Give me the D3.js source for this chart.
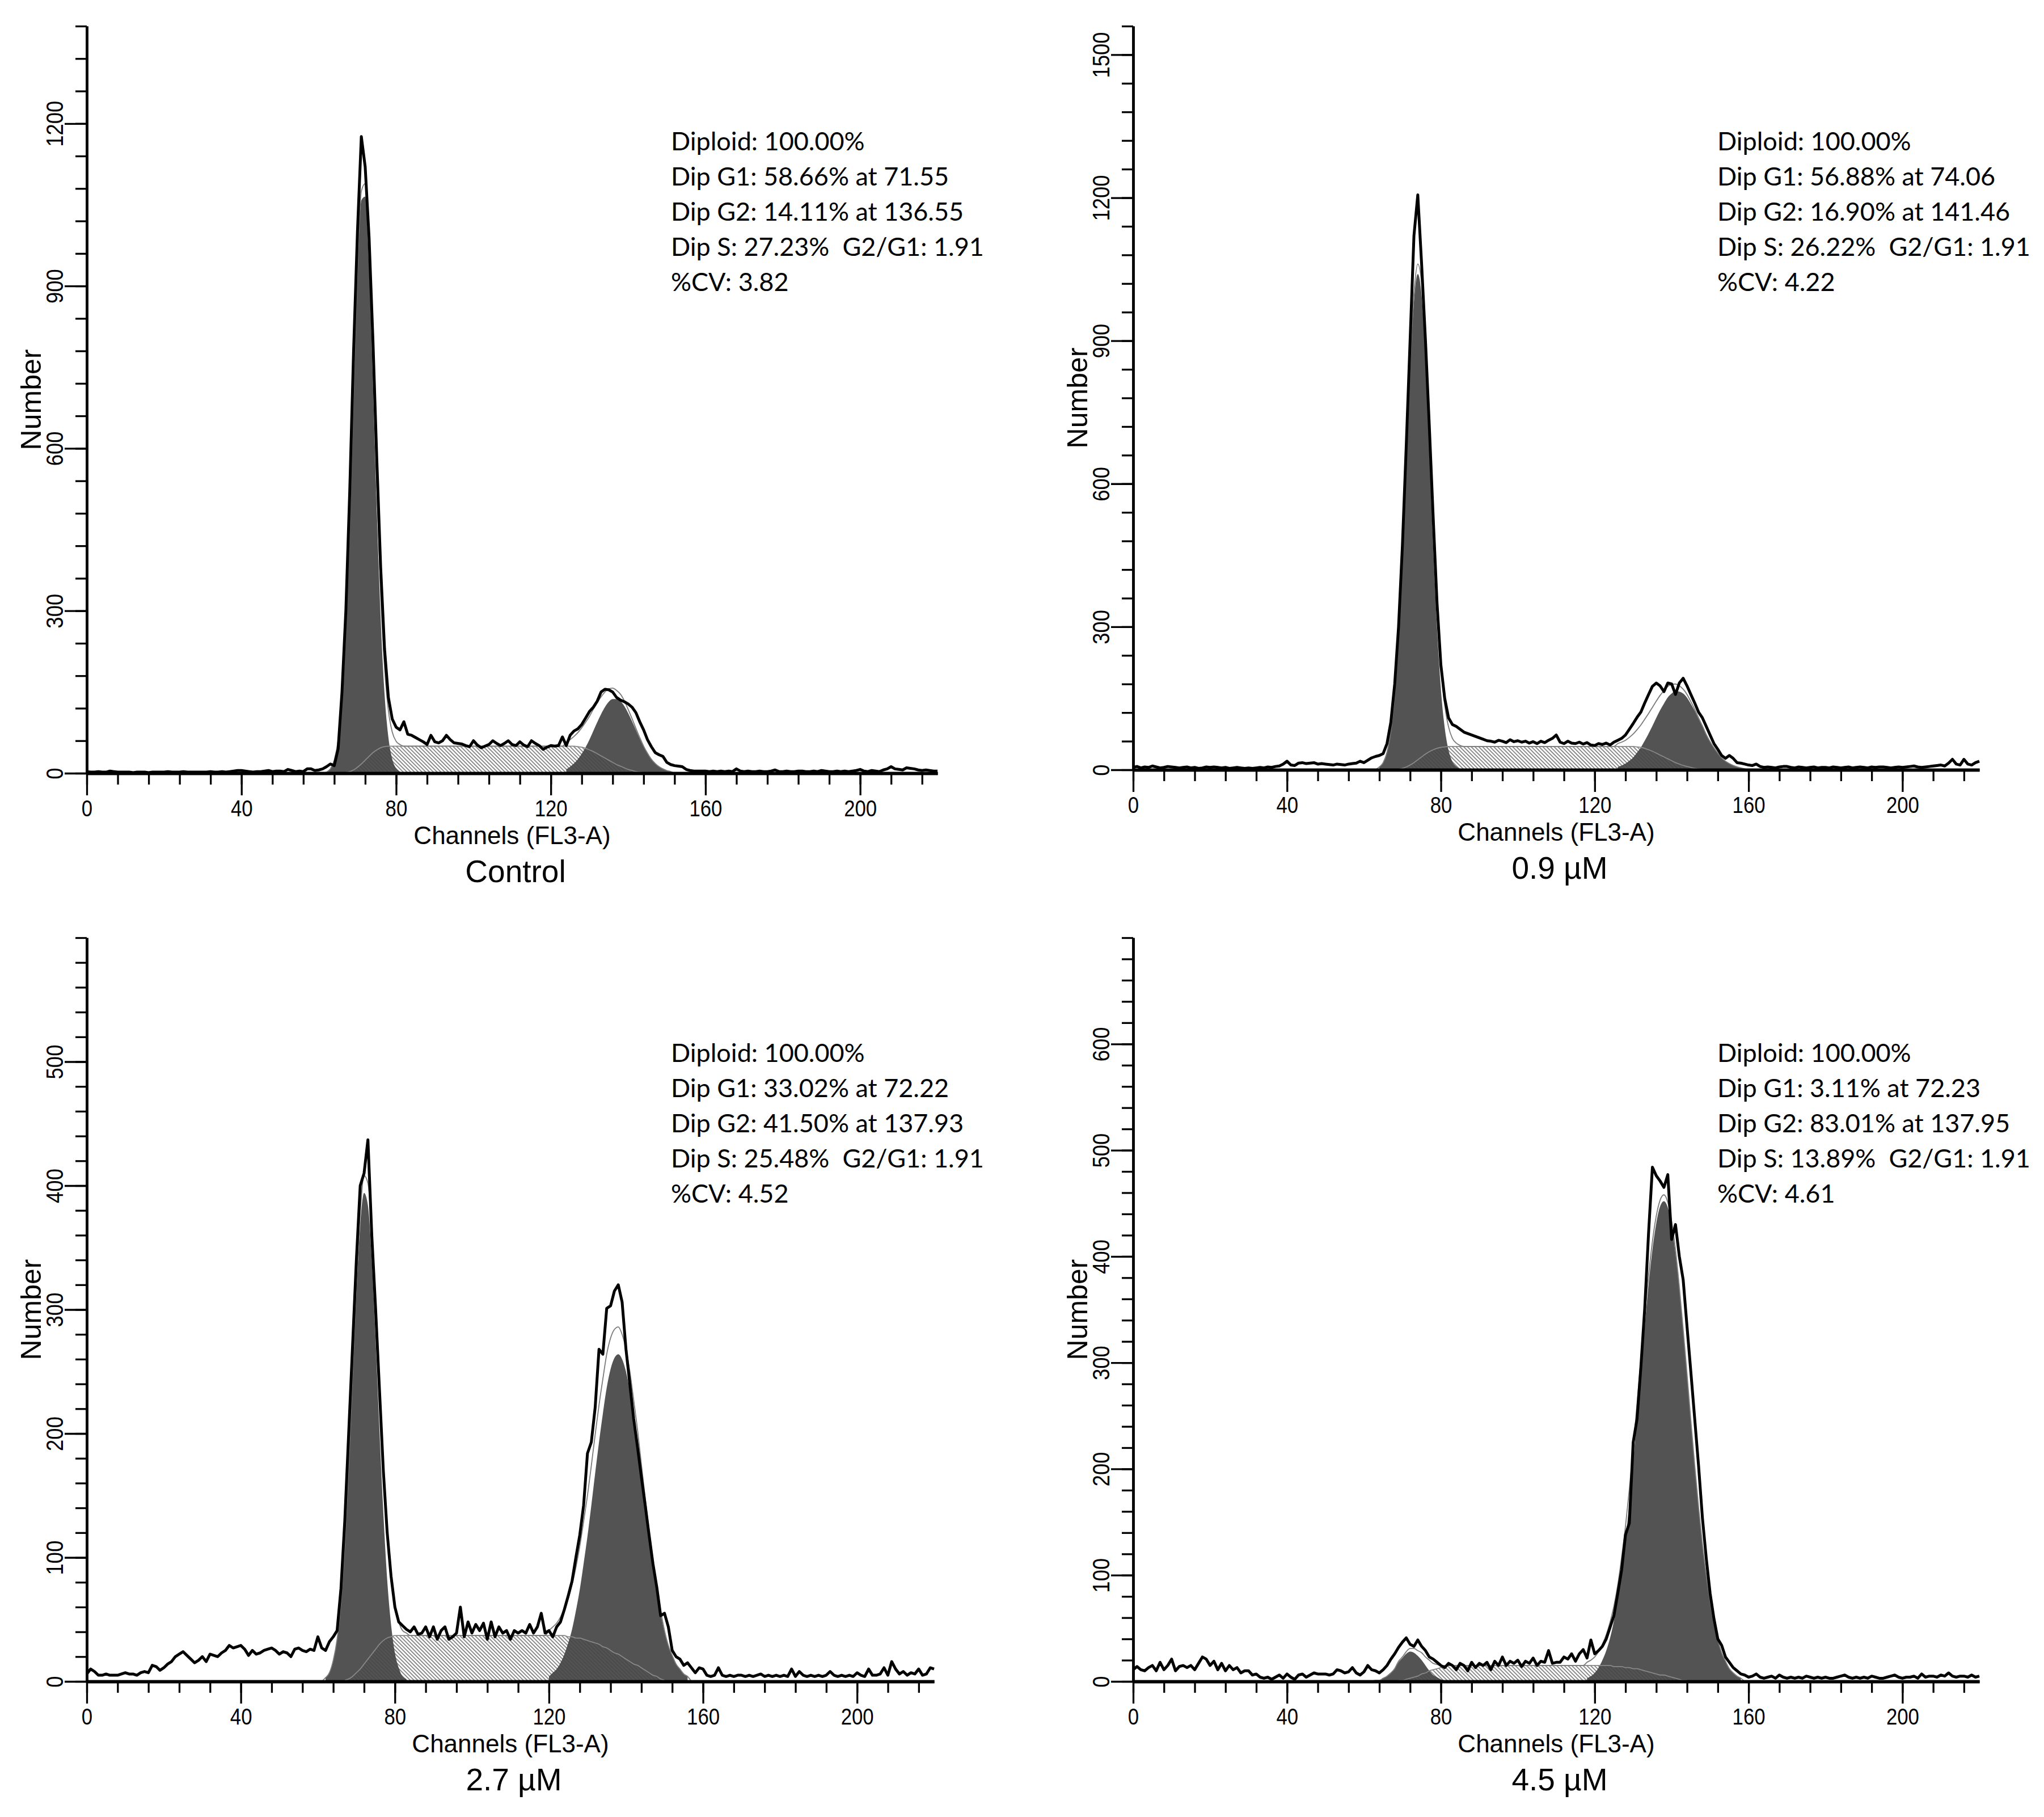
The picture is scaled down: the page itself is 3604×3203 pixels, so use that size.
<!DOCTYPE html>
<html>
<head>
<meta charset="utf-8">
<script src="https://cdn.jsdelivr.net/npm/d3@7"></script>
<style>
  body { margin: 0; background: #fff; }
</style>
</head>
<body>
<div id="chart-holder"></div>
<script>
      // DATA
      // channel axis (FL3-A)
      var channelMax = 220;
      var channelTicks = [0, 40, 80, 120, 160, 200];
      var channelMinorTicks = d3.range(0, 221, 8);

      // ---- Control ----
      var ctrlTitle = "Control";
      var ctrlStats = ["Diploid: 100.00%", "Dip G1: 58.66% at 71.55", "Dip G2: 14.11% at 136.55", "Dip S: 27.23%  G2/G1: 1.91", "%CV: 3.82"];
      var ctrlCountTicks = [0, 300, 600, 900, 1200];
      var ctrlRaw = [
        3,2,2,3,2,2,4,3,2,2,            // 0
        2,2,1,2,2,2,1,2,2,2,            // 10
        2,3,2,2,2,3,2,2,2,2,            // 20
        2,2,3,2,2,3,2,3,4,5,            // 30
        5,4,3,2,3,3,4,5,3,4,            // 40
        4,3,7,5,3,4,3,8,8,5,            // 50
        6,8,12,17,14,45,150,300,520,780, // 60
        1000,1176,1120,990,800,580,380,230,140,100, // 70
        85,80,95,72,70,66,62,58,53,70,  // 80
        58,56,60,70,62,56,55,54,51,49,  // 90
        60,52,47,50,53,60,55,51,55,60,  // 100
        53,51,58,52,49,60,55,51,44,48,  // 110
        51,50,51,67,51,70,78,82,90,102, // 120
        114,122,133,150,155,154,150,140,135,132, // 130
        128,122,112,95,80,62,49,38,34,31, // 140
        20,16,14,13,12,7,5,4,4,4,       // 150
        4,3,4,3,4,3,4,3,8,4,            // 160
        3,4,3,3,4,3,3,4,6,3,            // 170
        3,4,3,3,4,4,3,3,4,3,            // 180
        5,4,3,3,4,3,4,3,4,5,            // 190
        7,4,3,5,4,3,6,8,12,8,           // 200
        7,6,10,9,8,6,5,6,5,4,4          // 210
      ];
      var ctrlG1Start = 62;
      var ctrlG1 = [2,8,24,61,136,269,463,698,919,1058,1065,938,722,486,286,147,66,26,9,3];
      var ctrlSStart = 67;
      var ctrlS = [
        1,3,6,11,17,24,31,38,43,47,49,
        50,50,50,50,50,50,50,50,50,50,
        50,50,50,50,50,50,50,50,50,50,
        50,50,50,50,50,50,50,50,50,50,
        50,50,50,50,50,50,50,50,50,50,
        50,50,50,50,50,50,50,50,50,
        49,48,46,43,40,36,32,28,24,20,16,13,10,7,5,3,2,1
      ];
      var ctrlG2Start = 124;
      var ctrlG2 = [7,12,18,26,36,48,62,78,94,109,122,132,137,137,133,124,111,96,80,64,49,37,26,18,12,8,5,3];

      // ---- 0.9 uM ----
      var p09Title = "0.9 µM";
      var p09Stats = ["Diploid: 100.00%", "Dip G1: 56.88% at 74.06", "Dip G2: 16.90% at 141.46", "Dip S: 26.22%  G2/G1: 1.91", "%CV: 4.22"];
      var p09CountTicks = [0, 300, 600, 900, 1200, 1500];
      var p09Raw = [
        5,7,4,6,5,8,6,4,5,7,            // 0
        6,5,4,5,6,4,5,3,4,6,            // 10
        5,6,5,4,5,3,4,5,4,3,            // 20
        4,3,4,5,4,6,5,7,8,12,           // 30
        18,10,9,14,15,13,14,15,12,13,   // 40
        12,11,10,12,11,10,12,13,14,18,  // 50
        15,20,25,28,30,34,55,100,180,300, // 60
        470,680,900,1120,1206,1060,900,720,530,350, // 70
        220,150,109,95,91,85,79,76,73,70, // 80
        67,64,61,60,58,62,60,57,63,59,  // 90
        61,58,60,56,59,55,60,57,62,66,  // 100
        73,58,55,60,56,55,58,54,57,52,  // 110
        51,55,53,56,52,58,62,66,73,85,  // 120
        97,110,121,140,158,175,182,176,164,182, // 130
        180,158,182,192,176,158,140,121,109,91, // 140
        73,55,43,30,24,30,24,15,14,12,  // 150
        10,9,12,7,5,6,5,4,6,7,          // 160
        7,5,4,6,5,4,5,6,4,5,            // 170
        5,4,6,5,4,5,6,4,5,6,            // 180
        5,4,6,5,6,6,5,4,5,6,            // 190
        5,6,7,8,6,5,6,7,8,9,            // 200
        10,8,14,22,12,10,22,12,10,15,18 // 210
      ];
      var p09G1Start = 64;
      var p09G1 = [6,15,37,81,158,280,447,643,837,982,1040,994,858,668,469,298,170,88,41,17,7,2];
      var p09SStart = 69;
      var p09S = [
        1,3,6,10,15,21,27,33,38,42,45,47,48,
        49,49,49,49,49,49,49,49,49,49,
        49,49,49,49,49,49,49,49,49,49,
        49,49,49,49,49,49,49,49,49,49,
        49,49,49,49,49,49,49,49,49,49,
        49,49,49,49,49,49,49,49,49,
        48,47,45,42,39,35,31,27,23,19,15,12,9,7,5,3,2,1
      ];
      var p09G2Start = 126;
      var p09G2 = [6,9,13,19,26,36,47,61,76,92,109,125,139,152,160,165,164,160,151,138,124,107,91,74,59,46,35,25,18,13,9,6,4,2];

      // ---- 2.7 uM ----
      var p27Title = "2.7 µM";
      var p27Stats = ["Diploid: 100.00%", "Dip G1: 33.02% at 72.22", "Dip G2: 41.50% at 137.93", "Dip S: 25.48%  G2/G1: 1.91", "%CV: 4.52"];
      var p27CountTicks = [0, 100, 200, 300, 400, 500];
      var p27Raw = [
        6,10,8,5,5,6,5,5,5,6,           // 0
        7,6,6,5,7,8,7,13,12,9,          // 10
        11,14,16,20,22,24,21,18,15,17,  // 20
        20,16,22,21,20,23,25,29,27,28,  // 30
        29,26,21,25,22,23,25,26,27,25,  // 40
        22,24,23,20,26,27,25,24,26,25,  // 50
        36,27,25,32,36,41,75,130,200,270, // 60
        340,400,410,437,360,300,235,170,120,85, // 70
        60,48,45,42,40,44,38,39,44,36,  // 80
        44,34,41,44,34,36,39,60,36,48,  // 90
        39,46,41,47,34,48,36,44,39,41,  // 100
        34,41,39,41,39,46,39,44,55,39,  // 110
        41,36,44,48,58,69,81,100,118,142, // 120
        184,193,221,268,264,301,303,315,320,306, // 130
        268,240,212,189,165,142,118,95,76,53, // 140
        55,44,25,20,18,13,15,11,7,11,   // 150
        10,5,4,5,11,5,4,5,4,5,          // 160
        5,4,5,4,5,6,4,5,4,5,            // 170
        4,5,4,10,4,8,5,4,5,4,           // 180
        5,4,5,8,5,4,5,4,5,4,            // 190
        7,5,4,10,5,5,6,11,5,16,         // 200
        10,6,8,5,7,6,10,5,6,11,10       // 210
      ];
      var p27G1Start = 62;
      var p27G1 = [3,7,17,34,64,110,171,243,313,368,394,384,340,275,202,136,82,46,23,11,4,2];
      var p27SStart = 67;
      var p27S = [
        1,2,4,7,10,14,18,22,26,30,33,35,36,
        37,37,37,37,37,37,37,37,37,37,
        37,37,37,37,37,37,37,37,37,37,
        37,37,37,37,37,37,37,37,37,37,
        37,37,37,37,37,37,37,37,37,37,
        37,37,37,
        37,37,36,36,35,35,34,33,32,31,30,28,27,25,23,22,20,18,16,14,13,11,9,7,5,4,2,1
      ];
      var p27G2Start = 120;
      var p27G2 = [4,7,10,15,22,31,42,57,74,95,117,142,168,193,216,237,252,261,264,260,250,234,213,190,164,139,114,92,72,55,40,29,21,14,10,6,4];

      // ---- 4.5 uM ----
      var p45Title = "4.5 µM";
      var p45Stats = ["Diploid: 100.00%", "Dip G1: 3.11% at 72.23", "Dip G2: 83.01% at 137.95", "Dip S: 13.89%  G2/G1: 1.91", "%CV: 4.61"];
      var p45CountTicks = [0, 100, 200, 300, 400, 500, 600];
      var p45Raw = [
        11,14,11,10,13,15,10,18,11,15,  // 0
        21,10,14,15,13,15,11,17,23,21,  // 10
        15,19,11,17,10,15,11,13,8,10,   // 20
        10,6,7,4,3,4,2,4,6,3,           // 30
        7,4,2,6,7,4,6,8,7,7,            // 40
        7,6,7,11,10,8,9,13,8,6,         // 50
        9,15,11,10,8,11,15,21,26,32,    // 60
        37,41,35,33,39,33,29,23,21,18,  // 70
        15,13,17,15,11,17,15,10,18,13,  // 80
        17,15,18,11,19,15,23,15,19,17,  // 90
        20,14,19,17,22,15,19,18,29,17,  // 100
        18,18,23,21,26,19,26,30,22,39,  // 110
        26,29,33,40,51,62,83,105,138,149, // 120
        225,247,296,351,422,484,476,471,465,477, // 130
        416,430,400,378,334,291,247,203,154,116, // 140
        83,59,40,34,23,18,13,10,7,6,    // 150
        4,5,7,4,3,4,5,3,6,4,            // 160
        3,4,3,4,3,5,4,3,4,3,            // 170
        4,3,3,4,5,6,4,3,4,3,            // 180
        4,3,5,4,3,3,4,5,6,4,            // 190
        3,4,4,5,3,7,4,5,5,4,            // 200
        6,5,8,5,4,5,5,4,6,4,5           // 210
      ];
      var p45G1Start = 63;
      var p45G1 = [1,1,3,5,8,12,18,22,26,28,27,24,20,15,10,6,4,2,1];
      var p45SStart = 69;
      var p45S = [
        1,1,2,3,4,5,7,8,10,11,12,13,14,
        15,15,15,15,15,15,15,15,15,15,
        15,15,15,15,15,15,15,15,15,15,
        15,15,15,15,15,15,15,15,15,15,
        15,15,15,15,15,15,15,15,15,15,
        15,15,15,
        14,14,14,13,13,12,12,11,10,9,8,7,6,6,5,4,3,2,1,1
      ];
      var p45G2Start = 118;
      var p45G2 = [3,5,8,13,20,29,41,57,77,103,133,168,207,249,292,334,373,406,431,447,452,446,429,403,369,330,288,245,203,164,129,100,75,55,39,27,19,12,8,5,3];

      // LAYOUT (pixel frame of each panel)
      var panels = [
        { raw: ctrlRaw, g1: ctrlG1, g1Start: ctrlG1Start, s: ctrlS, sStart: ctrlSStart, g2: ctrlG2, g2Start: ctrlG2Start,
          yMax: 1380, yTicks: ctrlCountTicks, yMinorStep: 60, stats: ctrlStats, title: ctrlTitle,
          left: 153, right: 1653, top: 46, bottom: 1363 },
        { raw: p09Raw, g1: p09G1, g1Start: p09G1Start, s: p09S, sStart: p09SStart, g2: p09G2, g2Start: p09G2Start,
          yMax: 1560, yTicks: p09CountTicks, yMinorStep: 60, stats: p09Stats, title: p09Title,
          left: 1998, right: 3490, top: 46, bottom: 1357 },
        { raw: p27Raw, g1: p27G1, g1Start: p27G1Start, s: p27S, sStart: p27SStart, g2: p27G2, g2Start: p27G2Start,
          yMax: 600, yTicks: p27CountTicks, yMinorStep: 20, stats: p27Stats, title: p27Title,
          left: 153, right: 1647, top: 1653, bottom: 2964 },
        { raw: p45Raw, g1: p45G1, g1Start: p45G1Start, s: p45S, sStart: p45SStart, g2: p45G2, g2Start: p45G2Start,
          yMax: 700, yTicks: p45CountTicks, yMinorStep: 20, stats: p45Stats, title: p45Title,
          left: 1998, right: 3490, top: 1653, bottom: 2964 }
      ];

      var labelFont = "'Liberation Sans', Arial, sans-serif";
      var tickFont = "'Liberation Sans Narrow', 'Liberation Sans', Arial, sans-serif";
      var statsFont = "Lato, 'Open Sans', sans-serif";

      // DEFINE FUNCTIONS
      function toPoints(values, start) {
        return values.map(function(v, i) { return [start + i, v]; });
      }

      function valueAt(values, start, c) {
        var i = c - start;
        return (i >= 0 && i < values.length) ? values[i] : 0;
      }

      function textWidth(str, family, size) {
        var t = svg.append("text")
          .attr("font-family", family)
          .attr("font-size", size)
          .style("white-space", "pre")
          .text(str);
        var w = t.node().getComputedTextLength();
        t.remove();
        return w;
      }

      // create an SVG
      var svg = d3
        .select("#chart-holder")
        .append("svg")
        .attr("width", 3604)
        .attr("height", 3203)
        .attr("viewBox", "0 0 3604 3203")
      ;

      svg.append("rect")
        .attr("width", 3604)
        .attr("height", 3203)
        .attr("fill", "#fff");

      // hatch for the S phase
      svg.append("defs")
        .append("pattern")
        .attr("id", "hatch")
        .attr("patternUnits", "userSpaceOnUse")
        .attr("width", 4.7)
        .attr("height", 4.7)
        .attr("patternTransform", "rotate(-45)")
        .append("line")
        .attr("x1", 1).attr("y1", -1)
        .attr("x2", 1).attr("y2", 6)
        .attr("stroke", "#444")
        .attr("stroke-width", 1.2)
      ;

      // fit the stats font to the width seen in the picture
      var statsSize = 100 * 552 / textWidth(ctrlStats[3], statsFont, 100);
      // tick digits are condensed: "200" is about 58 px wide
      var tickSquash = Math.min(1, 58 / textWidth("200", tickFont, 40));

      panels.forEach(function(p) {
        var x = d3.scaleLinear().domain([0, channelMax]).range([p.left, p.right]);
        var y = d3.scaleLinear().domain([0, p.yMax]).range([p.bottom, p.top]);
        var g = svg.append("g").attr("class", "panel");

        var area = d3.area()
          .x(function(d) { return x(d[0]); })
          .y0(y(0))
          .y1(function(d) { return y(d[1]); })
          .curve(d3.curveMonotoneX);
        var smooth = d3.line()
          .x(function(d) { return x(d[0]); })
          .y(function(d) { return y(d[1]); })
          .curve(d3.curveMonotoneX);
        var jagged = d3.line()
          .x(function(d) { return x(d[0]); })
          .y(function(d) { return y(d[1]); });

        var g1Pts = toPoints(p.g1, p.g1Start);
        var g2Pts = toPoints(p.g2, p.g2Start);
        var sPts = toPoints(p.s, p.sStart);

        // sum of the fitted components
        var first = Math.min(p.g1Start, p.sStart) - 1;
        var last = Math.max(p.g2Start + p.g2.length, p.sStart + p.s.length);
        var fitPts = [];
        for (var c = first; c <= last; c++) {
          fitPts.push([c, valueAt(p.g1, p.g1Start, c) + valueAt(p.s, p.sStart, c) + valueAt(p.g2, p.g2Start, c)]);
        }

        g.append("path").datum(g1Pts).attr("d", area).attr("fill", "#535353");
        g.append("path").datum(g2Pts).attr("d", area).attr("fill", "#535353");
        g.append("path").datum(sPts).attr("d", area).attr("fill", "url(#hatch)");
        g.append("path").datum(sPts).attr("d", smooth)
          .attr("fill", "none").attr("stroke", "#888").attr("stroke-width", 1.8);

        // fit curve: thin grey line
        g.append("path").datum(fitPts).attr("d", smooth)
          .attr("fill", "none").attr("stroke", "#7a7a7a").attr("stroke-width", 1.8);

        // raw histogram
        g.append("path").datum(toPoints(p.raw, 0)).attr("d", jagged)
          .attr("fill", "none").attr("stroke", "#000")
          .attr("stroke-width", 5).attr("stroke-linejoin", "round");

        // x axis
        var xMinorG = g.append("g")
          .attr("transform", "translate(0," + p.bottom + ")")
          .call(d3.axisBottom(x).tickValues(channelMinorTicks).tickSize(20).tickSizeOuter(0).tickFormat(""));
        xMinorG.selectAll("text").remove();
        var xMajorG = g.append("g")
          .attr("transform", "translate(0," + p.bottom + ")")
          .call(d3.axisBottom(x).tickValues(channelTicks).tickSize(39).tickSizeOuter(0).tickPadding(9).tickFormat(d3.format("d")));
        xMajorG.attr("font-family", tickFont).attr("font-size", 40);
        xMajorG.selectAll("text")
          .attr("fill", "#000")
          .attr("transform", "scale(" + tickSquash + ",1)");

        // y axis
        var yMinorG = g.append("g")
          .attr("transform", "translate(" + p.left + ",0)")
          .call(d3.axisLeft(y).tickValues(d3.range(0, p.yMax + 1, p.yMinorStep)).tickSize(20).tickSizeOuter(0).tickFormat(""));
        yMinorG.selectAll("text").remove();
        var yMajorG = g.append("g")
          .attr("transform", "translate(" + p.left + ",0)")
          .call(d3.axisLeft(y).tickValues(p.yTicks).tickSize(39).tickSizeOuter(0).tickFormat(d3.format("d")));
        yMajorG.attr("font-family", tickFont).attr("font-size", 42);
        yMajorG.selectAll("text")
          .attr("transform", "rotate(-90) scale(" + tickSquash + ",1)")
          .attr("x", 0)
          .attr("y", -42)
          .attr("dy", 0)
          .attr("text-anchor", "middle")
          .attr("fill", "#000");

        [xMinorG, xMajorG].forEach(function(a) {
          a.select(".domain").attr("stroke", "#000").attr("stroke-width", 5.5);
          a.selectAll(".tick line").attr("stroke", "#000").attr("stroke-width", 3.3);
        });
        [yMinorG, yMajorG].forEach(function(a) {
          a.select(".domain").attr("stroke", "#000").attr("stroke-width", 4.5);
          a.selectAll(".tick line").attr("stroke", "#000").attr("stroke-width", 3.3);
        });

        // axis titles
        g.append("text")
          .attr("x", (p.left + p.right) / 2)
          .attr("y", p.bottom + 125)
          .attr("text-anchor", "middle")
          .attr("font-family", labelFont)
          .attr("font-size", 44)
          .text("Channels (FL3-A)");

        g.append("text")
          .attr("transform", "translate(" + (p.left - 81) + "," + ((p.top + p.bottom) / 2) + ") rotate(-90)")
          .attr("text-anchor", "middle")
          .attr("font-family", labelFont)
          .attr("font-size", 50)
          .text("Number");

        // panel title
        g.append("text")
          .attr("x", (p.left + p.right) / 2 + 6)
          .attr("y", p.bottom + 192)
          .attr("text-anchor", "middle")
          .attr("font-family", labelFont)
          .attr("font-size", 55)
          .text(p.title);

        // modfit statistics
        g.append("g")
          .selectAll("text")
          .data(p.stats)
          .enter()
          .append("text")
          .attr("x", p.left + 1030)
          .attr("y", function(d, i) { return p.top + 219 + i * 62; })
          .attr("font-family", statsFont)
          .attr("font-size", statsSize)
          .style("white-space", "pre")
          .text(function(d) { return d; });
      });
</script>
</body>
</html>
